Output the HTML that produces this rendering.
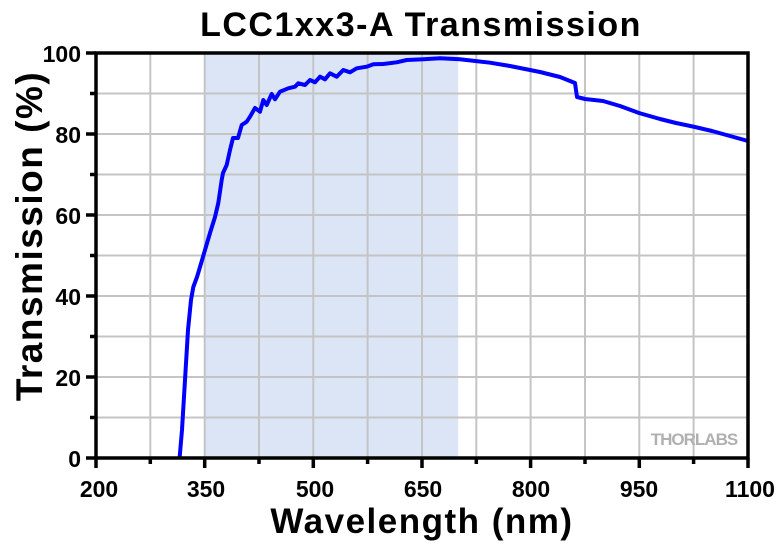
<!DOCTYPE html>
<html><head><meta charset="utf-8"><style>
body{margin:0;background:#fff;}
svg text{font-family:"Liberation Sans",Arial,sans-serif;font-weight:bold;fill:#000;}
</style></head><body>
<svg width="780" height="543" viewBox="0 0 780 543" xmlns="http://www.w3.org/2000/svg">
<rect x="204.7" y="53" width="253.5" height="405" fill="#dce5f6"/>
<g stroke="#c4c4c4" stroke-width="2">
<line x1="150.3" y1="53" x2="150.3" y2="458"/><line x1="204.7" y1="53" x2="204.7" y2="458"/>
<line x1="259" y1="53" x2="259" y2="458"/><line x1="313.3" y1="53" x2="313.3" y2="458"/>
<line x1="367.6" y1="53" x2="367.6" y2="458"/><line x1="422" y1="53" x2="422" y2="458"/>
<line x1="476.3" y1="53" x2="476.3" y2="458"/><line x1="530.6" y1="53" x2="530.6" y2="458"/>
<line x1="585" y1="53" x2="585" y2="458"/><line x1="639.3" y1="53" x2="639.3" y2="458"/>
<line x1="693.6" y1="53" x2="693.6" y2="458"/>
<line x1="96" y1="93.5" x2="748" y2="93.5"/><line x1="96" y1="134" x2="748" y2="134"/>
<line x1="96" y1="174.5" x2="748" y2="174.5"/><line x1="96" y1="215" x2="748" y2="215"/>
<line x1="96" y1="255.5" x2="748" y2="255.5"/><line x1="96" y1="296" x2="748" y2="296"/>
<line x1="96" y1="336.5" x2="748" y2="336.5"/><line x1="96" y1="377" x2="748" y2="377"/>
<line x1="96" y1="417.5" x2="748" y2="417.5"/>
</g>
<text x="694" y="445" font-size="17" style="fill:#b0b0b0" text-anchor="middle" letter-spacing="-1">THORLABS</text>
<polyline fill="none" stroke="#0000ff" stroke-width="4" stroke-linejoin="round" points="179.5,459 182,430 185,380 188,330 191,300 193.3,287 197,277 200,267 205,250 210,233 215,217 218.3,203 221.7,180 223,173 226.7,165 230,150 233,138 238,138 241.7,125 246.7,121.7 250,116.7 255,108 260,111.7 263.3,100 266.7,105 271.7,94 275,99.3 280,91.7 288.3,88.3 295,86.7 298.3,83.3 305,85 310,80 315,82.3 320,76.7 325,79.3 330,73.3 336.7,76.7 343.3,70 350,72.3 356.7,68.3 366.7,66.7 373.3,64.3 383.3,64 396.7,62.3 406.7,60 423.3,59.3 440,58.3 460,59.3 473,60.7 490,62.7 510,66 540,72 560,77 575,83 577,97 585,99 603,101 620,106 639,113 660,119 676,123 695,127 712,131 730,136 748,141"/>
<rect x="96" y="53" width="652" height="405" fill="none" stroke="#000" stroke-width="3.5"/>
<g stroke="#000" stroke-width="3.5">
<line x1="96" y1="458" x2="96" y2="468"/><line x1="204.7" y1="458" x2="204.7" y2="468"/>
<line x1="313.3" y1="458" x2="313.3" y2="468"/><line x1="422" y1="458" x2="422" y2="468"/>
<line x1="530.6" y1="458" x2="530.6" y2="468"/><line x1="639.3" y1="458" x2="639.3" y2="468"/>
<line x1="748" y1="458" x2="748" y2="468"/>
<line x1="150.3" y1="458" x2="150.3" y2="464"/><line x1="259" y1="458" x2="259" y2="464"/>
<line x1="367.6" y1="458" x2="367.6" y2="464"/><line x1="476.3" y1="458" x2="476.3" y2="464"/>
<line x1="585" y1="458" x2="585" y2="464"/><line x1="693.6" y1="458" x2="693.6" y2="464"/>
<line x1="86" y1="53" x2="96" y2="53"/><line x1="86" y1="134" x2="96" y2="134"/>
<line x1="86" y1="215" x2="96" y2="215"/><line x1="86" y1="296" x2="96" y2="296"/>
<line x1="86" y1="377" x2="96" y2="377"/><line x1="86" y1="458" x2="96" y2="458"/>
<line x1="90" y1="93.5" x2="96" y2="93.5"/><line x1="90" y1="174.5" x2="96" y2="174.5"/>
<line x1="90" y1="255.5" x2="96" y2="255.5"/><line x1="90" y1="336.5" x2="96" y2="336.5"/>
<line x1="90" y1="417.5" x2="96" y2="417.5"/>
</g>
<g font-size="23" text-anchor="end">
<text x="81" y="62">100</text><text x="81" y="143">80</text><text x="81" y="224">60</text>
<text x="81" y="305">40</text><text x="81" y="386">20</text><text x="81" y="467">0</text>
</g>
<g font-size="23" text-anchor="middle">
<text x="99" y="497">200</text><text x="206" y="497">350</text><text x="315" y="497">500</text>
<text x="423" y="497">650</text><text x="531" y="497">800</text><text x="639" y="497">950</text>
<text x="750" y="497">1100</text>
</g>
<text x="421" y="36" font-size="34" text-anchor="middle" letter-spacing="1.5">LCC1xx3-A Transmission</text>
<text x="422" y="533" font-size="35" text-anchor="middle" letter-spacing="1.5">Wavelength (nm)</text>
<text transform="translate(42,236) rotate(-90)" font-size="37" text-anchor="middle" letter-spacing="1.5">Transmission (%)</text>
</svg>
</body></html>
